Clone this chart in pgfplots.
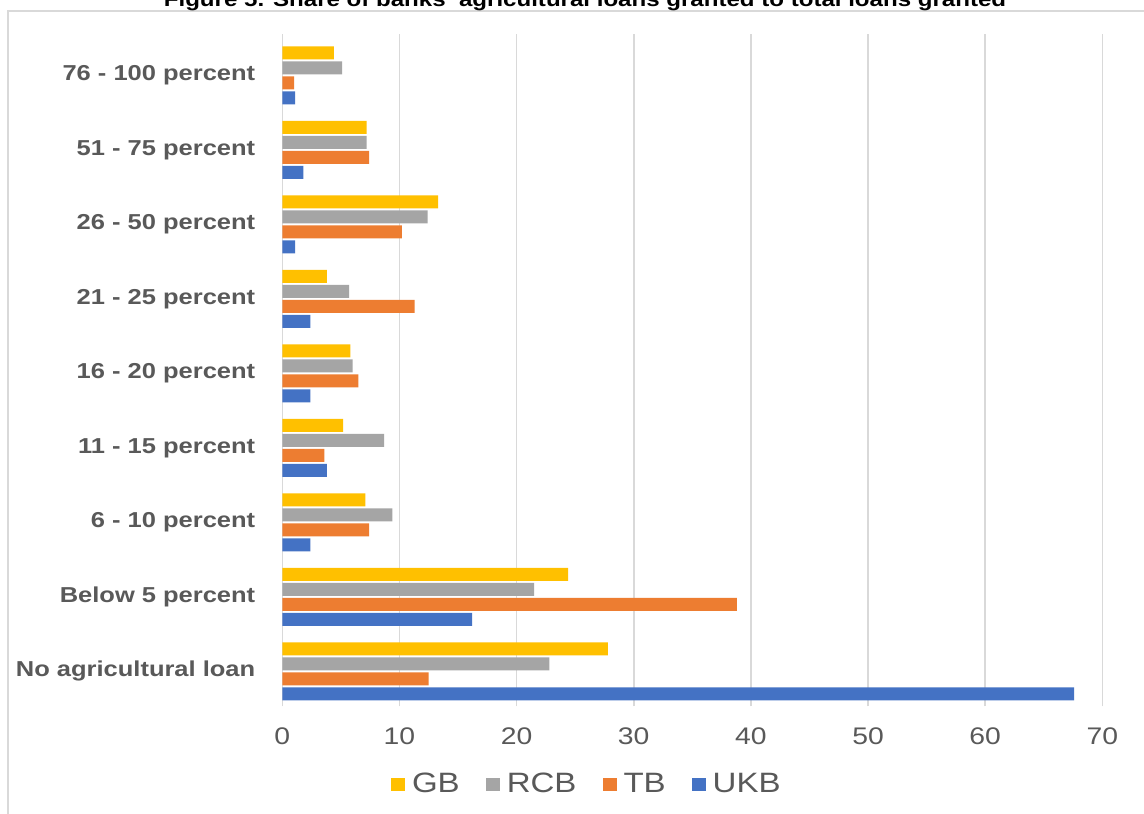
\documentclass[border=0pt]{standalone}
\usepackage{fontspec}
\setmainfont{Liberation Sans}[FakeStretch=1.18]
\usepackage{pgfplots}
\pgfplotsset{compat=1.18}
\definecolor{cGB}{HTML}{FFC000}
\definecolor{cRCB}{HTML}{A5A5A5}
\definecolor{cTB}{HTML}{ED7D31}
\definecolor{cUKB}{HTML}{4472C4}
\definecolor{txt}{HTML}{595959}
\definecolor{gridc}{HTML}{D9D9D9}
\begin{document}
\begin{tikzpicture}[x=0.5pt,y=0.5pt]
\useasboundingbox (0,0) rectangle (1144,813);
\clip (0,0) rectangle (1144,813);
\fill[white] (0,0) rectangle (1144,813);
\draw[color=gridc, line width=0.8pt] (8,-5) -- (8,802) -- (1150,802);
\node[anchor=base, inner sep=0pt, font=\bfseries\fontsize{10.2}{11}\selectfont] at (585,806) {Figure 5. Share of banks' agricultural loans granted to total loans granted};
\begin{axis}[
  at={(241,143)}, anchor=south west,
  width=410pt, height=336pt, scale only axis,
  xbar, bar width=6.5pt,
  xmin=0, xmax=70, ymin=-0.47, ymax=8.55,
  xtick={0,10,...,70},
  ytick={0,...,8},
  yticklabels={No agricultural loan, Below 5 percent, 6 - 10 percent, 11 - 15 percent, 16 - 20 percent, 21 - 25 percent, 26 - 50 percent, 51 - 75 percent, 76 - 100 percent},
  axis line style={draw=none},
  major tick length=0pt,
  xmajorgrids, grid style={color=gridc, line width=0.8pt},
  /pgf/number format/assume math mode=true,
  xticklabel style={font=\fontsize{12}{14}\selectfont, text=txt, yshift=-7pt},
  yticklabel style={font=\bfseries\fontsize{10.8}{12}\selectfont, text=txt, xshift=-10pt},
  legend columns=-1,
  legend image code/.code={\fill[#1,draw=none] (0pt,-3.3pt) rectangle (7pt,3.3pt);},
  legend style={draw=none, fill=none, at={(0.3726,-0.116)}, anchor=center,
    font=\fontsize{14}{16}\selectfont, text=txt,
    /tikz/every even column/.append style={column sep=11pt},
    /tikz/every odd column/.append style={column sep=1.5pt}},
]
\addplot[fill=cGB, draw=none, bar shift=11.25pt] coordinates {
(27.8,0) (24.4,1) (7.1,2) (5.2,3) (5.8,4) (3.8,5) (13.3,6) (7.2,7) (4.4,8)};
\addlegendentry{GB}
\addplot[fill=cRCB, draw=none, bar shift=3.75pt] coordinates {
(22.8,0) (21.5,1) (9.4,2) (8.7,3) (6.0,4) (5.7,5) (12.4,6) (7.2,7) (5.1,8)};
\addlegendentry{RCB}
\addplot[fill=cTB, draw=none, bar shift=-3.75pt] coordinates {
(12.5,0) (38.8,1) (7.4,2) (3.6,3) (6.5,4) (11.3,5) (10.2,6) (7.4,7) (1.0,8)};
\addlegendentry{TB}
\addplot[fill=cUKB, draw=none, bar shift=-11.25pt] coordinates {
(67.6,0) (16.2,1) (2.4,2) (3.8,3) (2.4,4) (2.4,5) (1.1,6) (1.8,7) (1.1,8)};
\addlegendentry{UKB}
\end{axis}
\end{tikzpicture}
\end{document}
